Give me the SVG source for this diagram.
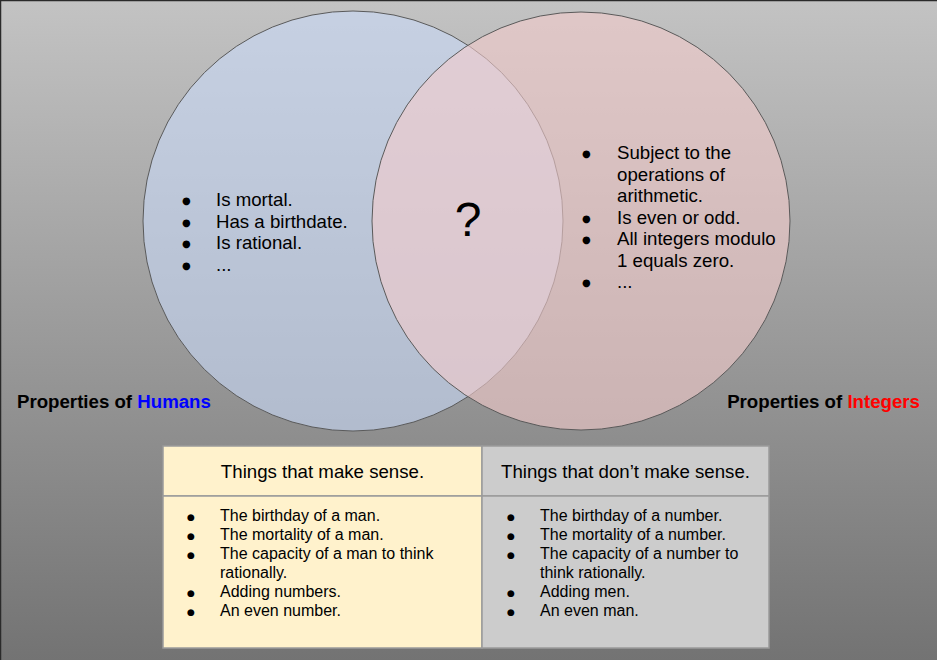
<svg xmlns="http://www.w3.org/2000/svg" width="937" height="660" viewBox="0 0 937 660">
<defs>
<linearGradient id="bg" x1="0" y1="0" x2="0" y2="1">
<stop offset="0" stop-color="#c3c3c3"/>
<stop offset="1" stop-color="#737373"/>
</linearGradient>
</defs>
<style>
text{font-family:"Liberation Sans",Arial,sans-serif;fill:#000}
.c{font-size:18.67px}
.t{font-size:16px}
.b{font-family:"DejaVu Sans",sans-serif;font-size:10px}
.bs{font-family:"DejaVu Sans",sans-serif;font-size:9px}
.lbl{font-size:18.67px;font-weight:bold}
.ven{stroke:#5a5a5a;stroke-width:1;fill-opacity:0.6}
.cell{stroke:#9a9a9a;stroke-width:1.5}
</style>
<rect x="0" y="0" width="937" height="660" fill="url(#bg)"/>
<path d="M0.5 660 V0.5 H937" fill="none" stroke="#2a2a2a" stroke-width="1.5"/>

<g id="humans">
<circle class="ven" cx="353" cy="221" r="210" fill="#c9daf8"/>
</g>
<g id="integers">
<circle class="ven" cx="581" cy="221" r="209" fill="#f4cccc"/>
</g>

<g id="humans-text">
<text class="b" x="182" y="204">●</text><text class="c" x="216" y="206">Is mortal.</text>
<text class="b" x="182" y="226">●</text><text class="c" x="216" y="227.5">Has a birthdate.</text>
<text class="b" x="182" y="247">●</text><text class="c" x="216" y="249">Is rational.</text>
<text class="b" x="182" y="269">●</text><text class="c" x="216" y="270.5">...</text>
</g>

<g id="question">
<text x="468" y="236" font-size="48" text-anchor="middle">?</text>
</g>

<g id="integers-text">
<text class="b" x="582" y="157">●</text><text class="c" x="617" y="159.3">Subject to the</text>
<text class="c" x="617" y="180.8">operations of</text>
<text class="c" x="617" y="202.3">arithmetic.</text>
<text class="b" x="582" y="222">●</text><text class="c" x="617" y="223.8">Is even or odd.</text>
<text class="b" x="582" y="243">●</text><text class="c" x="617" y="245.3">All integers modulo</text>
<text class="c" x="617" y="266.8">1 equals zero.</text>
<text class="b" x="582" y="286">●</text><text class="c" x="617" y="288.3">...</text>
</g>

<g id="label-humans">
<text class="lbl" x="17" y="408">Properties of <tspan fill="#0000ff">Humans</tspan></text>
</g>
<g id="label-integers">
<text class="lbl" x="920" y="408" text-anchor="end">Properties of <tspan fill="#ff0000">Integers</tspan></text>
</g>

<g id="table">
<rect class="cell" x="163" y="446" width="319" height="50" fill="#fff2cc"/>
<rect class="cell" x="482" y="446" width="287" height="50" fill="#cccccc"/>
<rect class="cell" x="163" y="496" width="319" height="152" fill="#fff2cc"/>
<rect class="cell" x="482" y="496" width="287" height="152" fill="#cccccc"/>
<text class="c" x="322.5" y="478" text-anchor="middle">Things that make sense.</text>
<text class="c" x="625.5" y="478" text-anchor="middle">Things that don’t make sense.</text>

<text class="bs" x="187" y="520">●</text><text class="t" x="220" y="521">The birthday of a man.</text>
<text class="bs" x="187" y="539">●</text><text class="t" x="220" y="540">The mortality of a man.</text>
<text class="bs" x="187" y="558">●</text><text class="t" x="220" y="559">The capacity of a man to think</text>
<text class="t" x="220" y="578">rationally.</text>
<text class="bs" x="187" y="596">●</text><text class="t" x="220" y="597">Adding numbers.</text>
<text class="bs" x="187" y="615">●</text><text class="t" x="220" y="616">An even number.</text>

<text class="bs" x="507" y="520">●</text><text class="t" x="540" y="521">The birthday of a number.</text>
<text class="bs" x="507" y="539">●</text><text class="t" x="540" y="540">The mortality of a number.</text>
<text class="bs" x="507" y="558">●</text><text class="t" x="540" y="559">The capacity of a number to</text>
<text class="t" x="540" y="578">think rationally.</text>
<text class="bs" x="507" y="596">●</text><text class="t" x="540" y="597">Adding men.</text>
<text class="bs" x="507" y="615">●</text><text class="t" x="540" y="616">An even man.</text>
</g>
</svg>
